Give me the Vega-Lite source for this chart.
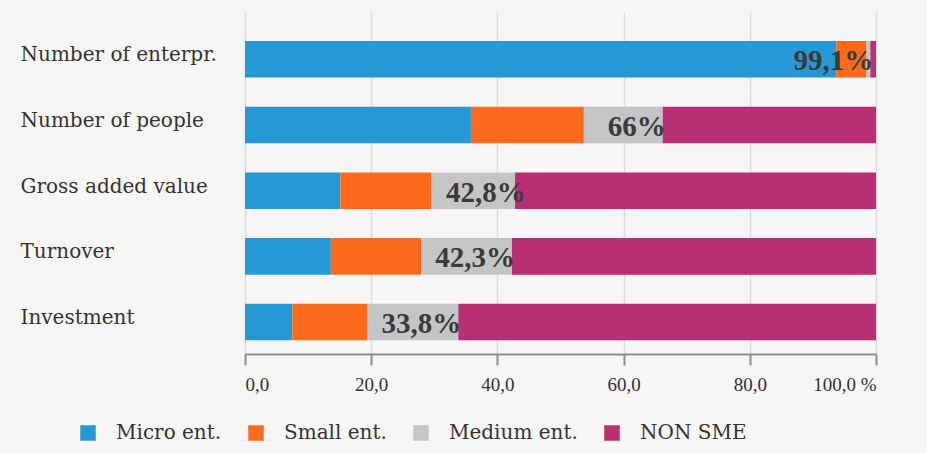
{
  "$schema": "https://vega.github.io/schema/vega-lite/v6.json",
  "width": 631,
  "height": 342,
  "autosize": "none",
  "padding": {"left": 245, "top": 12, "right": 51, "bottom": 99},
  "background": "#f7f6f4",
  "config": {
    "view": {"stroke": null},
    "font": "DejaVu Serif"
  },
  "datasets": {
    "bars": [
      {"cat": "Number of  enterpr.", "type": "Micro ent.", "o": 1, "value": 93.7},
      {"cat": "Number of  enterpr.", "type": "Small ent.", "o": 2, "value": 4.8},
      {"cat": "Number of  enterpr.", "type": "Medium ent.", "o": 3, "value": 0.6},
      {"cat": "Number of  enterpr.", "type": "NON  SME", "o": 4, "value": 0.9},
      {"cat": "Number of  people", "type": "Micro ent.", "o": 1, "value": 35.8},
      {"cat": "Number of  people", "type": "Small ent.", "o": 2, "value": 17.9},
      {"cat": "Number of  people", "type": "Medium ent.", "o": 3, "value": 12.5},
      {"cat": "Number of  people", "type": "NON  SME", "o": 4, "value": 33.8},
      {"cat": "Gross added value", "type": "Micro ent.", "o": 1, "value": 15.1},
      {"cat": "Gross added value", "type": "Small ent.", "o": 2, "value": 14.4},
      {"cat": "Gross added value", "type": "Medium ent.", "o": 3, "value": 13.3},
      {"cat": "Gross added value", "type": "NON  SME", "o": 4, "value": 57.2},
      {"cat": "Turnover", "type": "Micro ent.", "o": 1, "value": 13.6},
      {"cat": "Turnover", "type": "Small ent.", "o": 2, "value": 14.3},
      {"cat": "Turnover", "type": "Medium ent.", "o": 3, "value": 14.4},
      {"cat": "Turnover", "type": "NON  SME", "o": 4, "value": 57.7},
      {"cat": "Investment", "type": "Micro ent.", "o": 1, "value": 7.5},
      {"cat": "Investment", "type": "Small ent.", "o": 2, "value": 11.9},
      {"cat": "Investment", "type": "Medium ent.", "o": 3, "value": 14.4},
      {"cat": "Investment", "type": "NON  SME", "o": 4, "value": 66.2}
    ],
    "labels": [
      {"cat": "Number of  enterpr.", "sme": 99.1, "label": "99,1%"},
      {"cat": "Number of  people", "sme": 66.2, "label": "66%"},
      {"cat": "Gross added value", "sme": 44.0, "label": "42,8%"},
      {"cat": "Turnover", "sme": 42.3, "label": "42,3%"},
      {"cat": "Investment", "sme": 33.8, "label": "33,8%"}
    ]
  },
  "encoding": {
    "y": {
      "field": "cat",
      "type": "nominal",
      "sort": ["Number of  enterpr.", "Number of  people", "Gross added value", "Turnover", "Investment"],
      "scale": {"paddingInner": 0.444, "paddingOuter": 0.3245, "align": 0.68},
      "axis": {
        "title": null,
        "domain": false,
        "ticks": false,
        "tickSize": 0,
        "labelAlign": "left",
        "labelPadding": 225,
        "labelOffset": -4,
        "labelFont": "DejaVu Serif",
        "labelFontSize": 20,
        "labelColor": "#333333",
        "labelLimit": 300
      }
    }
  },
  "layer": [
    {
      "data": {"name": "bars"},
      "mark": {"type": "bar"},
      "encoding": {
        "x": {
          "field": "value",
          "type": "quantitative",
          "stack": "zero",
          "scale": {"domain": [0, 100], "nice": false},
          "axis": {
            "title": null,
            "values": [0, 20, 40, 60, 80, 100],
            "labelExpr": "datum.value == 100 ? '100,0 %' : replace(format(datum.value, '.1f'), '.', ',')",
            "labelFont": "Liberation Serif",
            "labelFontSize": 19,
            "labelColor": "#333333",
            "labelPadding": 10,
            "domainColor": "#8c8c8c",
            "domainWidth": 2,
            "tickColor": "#8c8c8c",
            "tickWidth": 2,
            "tickSize": 11,
            "grid": true,
            "gridColor": "#dcdcdc",
            "gridWidth": 1.5
          }
        },
        "color": {
          "field": "type",
          "type": "nominal",
          "sort": ["Micro ent.", "Small ent.", "Medium ent.", "NON  SME"],
          "scale": {
            "domain": ["Micro ent.", "Small ent.", "Medium ent.", "NON  SME"],
            "range": ["#2598d5", "#fd6a1e", "#c4c5c7", "#ba2e73"]
          },
          "legend": {
            "title": null,
            "orient": "none",
            "direction": "horizontal",
            "legendX": -167,
            "legendY": 411,
            "padding": 0,
            "symbolType": "square",
            "symbolSize": 240,
            "symbolStrokeWidth": 0,
            "symbolOpacity": 1,
            "labelFont": "DejaVu Serif",
            "labelFontSize": 20,
            "labelColor": "#333333",
            "labelOffset": 18,
            "columnPadding": 24,
            "labelLimit": 200
          }
        },
        "order": {"field": "o", "type": "quantitative"}
      }
    },
    {
      "data": {"name": "labels"},
      "mark": {
        "type": "text",
        "align": "right",
        "baseline": "middle",
        "font": "Liberation Serif",
        "fontWeight": "bold",
        "fontSize": 29,
        "color": "#3a3a3a",
        "dx": 3,
        "dy": 2
      },
      "encoding": {
        "x": {"field": "sme", "type": "quantitative"},
        "text": {"field": "label"}
      }
    }
  ]
}
